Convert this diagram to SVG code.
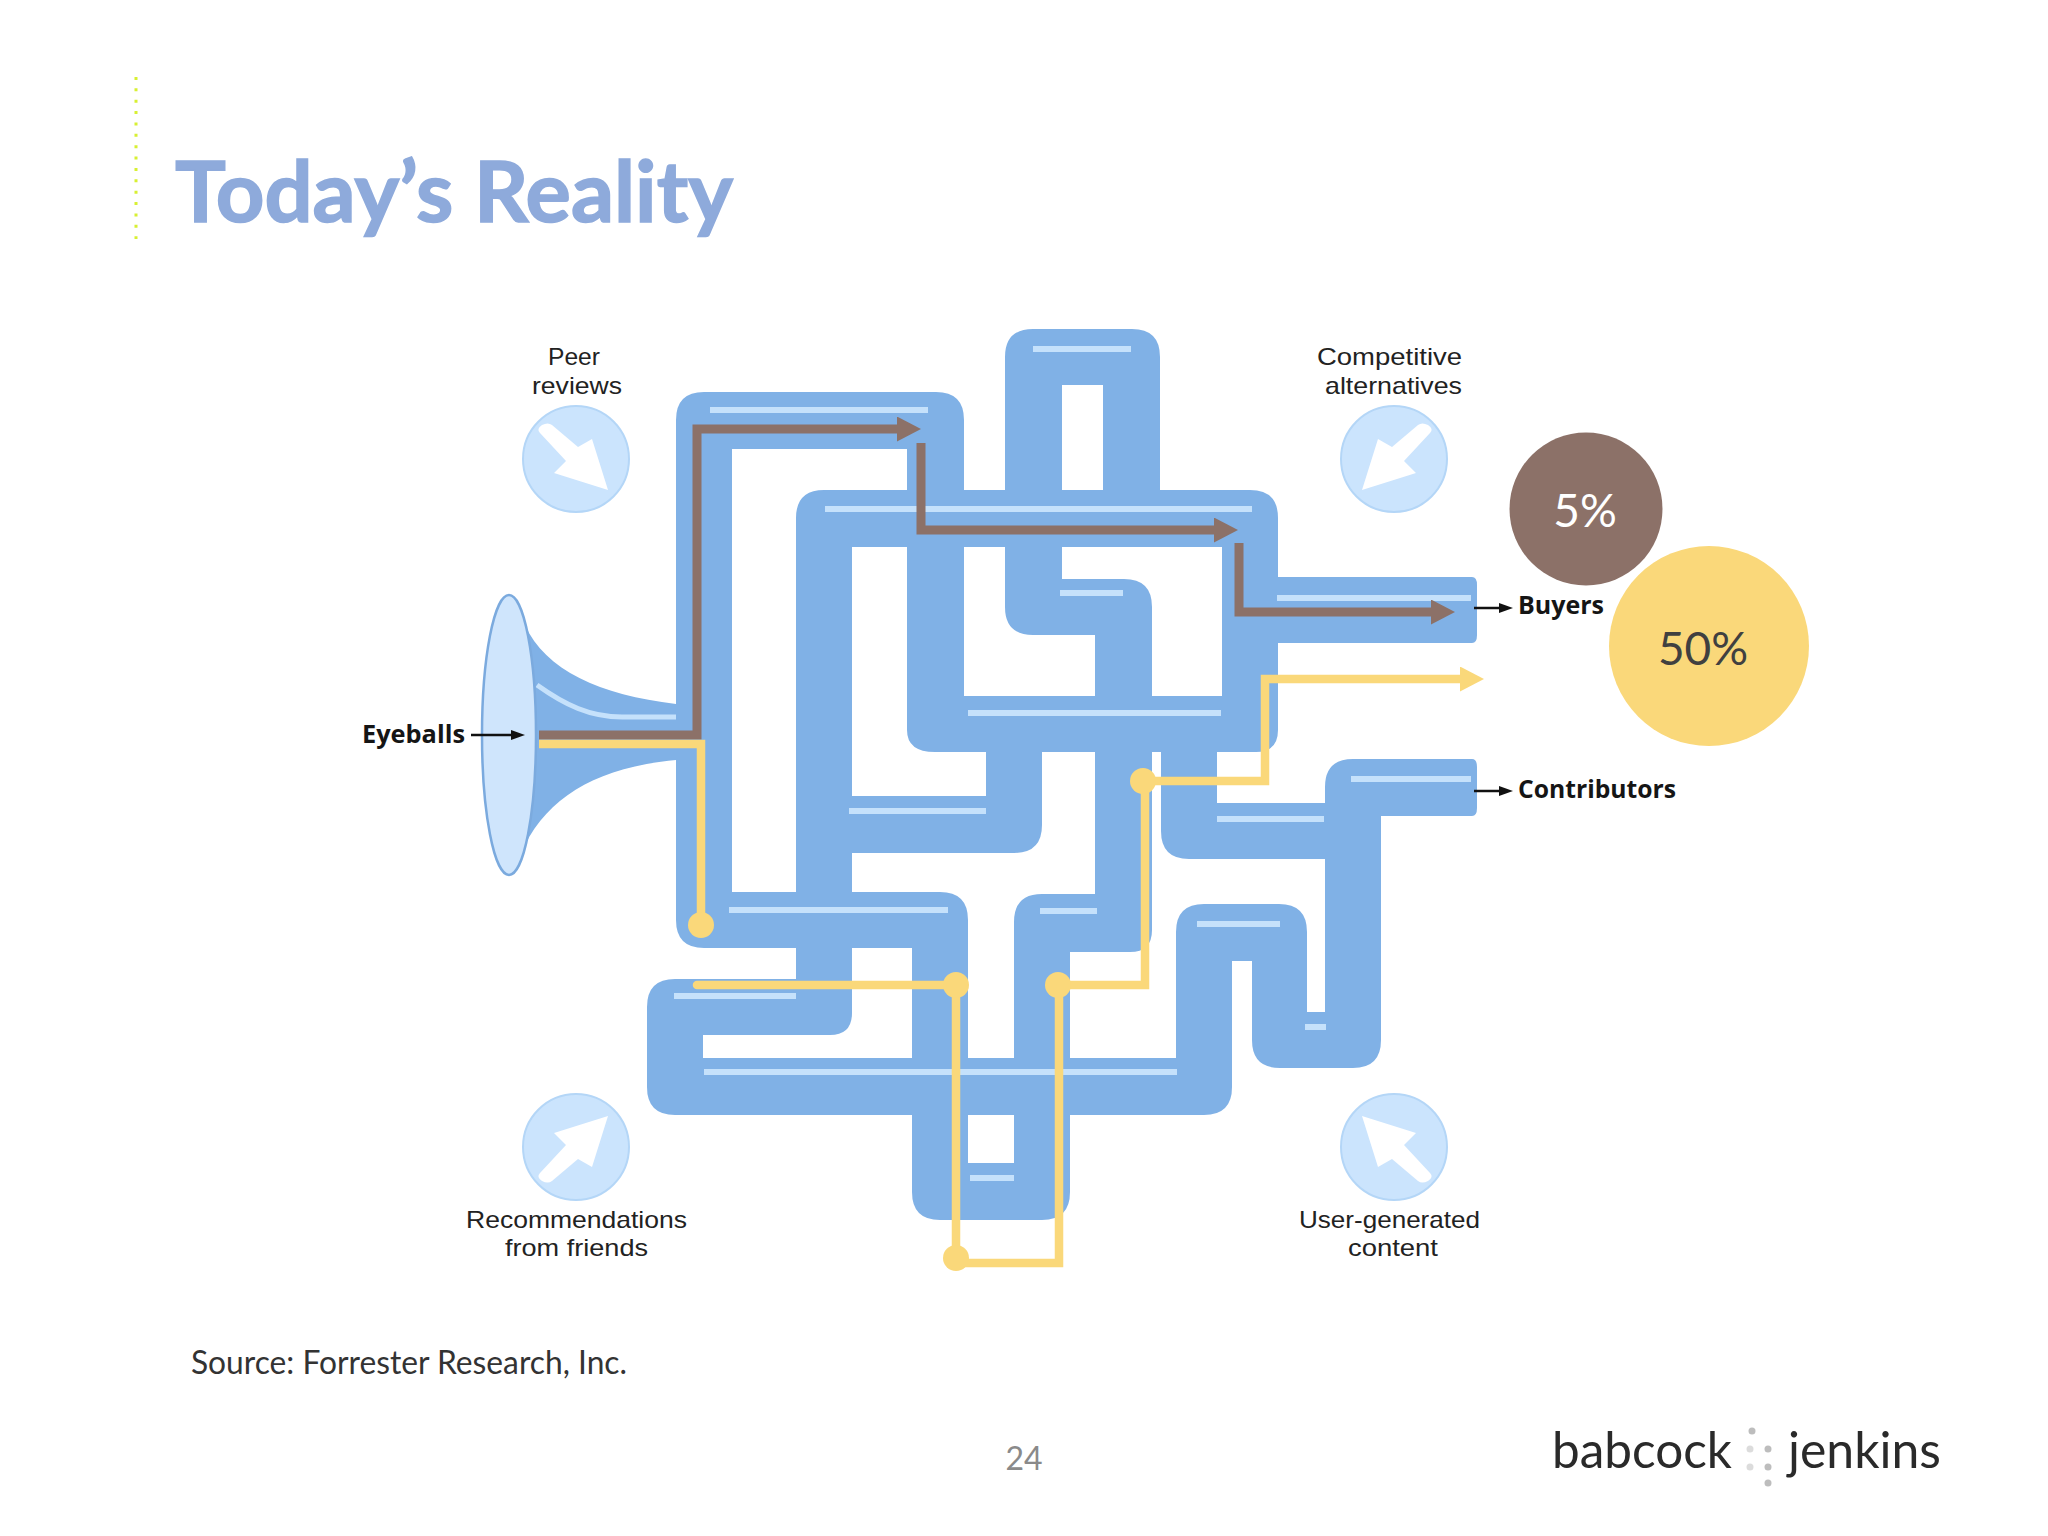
<svg xmlns="http://www.w3.org/2000/svg" width="2048" height="1536" viewBox="0 0 2048 1536">
<style>
.pipe{fill:#80b1e6}
.shine{stroke:#c5e1fb;stroke-width:6;fill:none}
.brown{stroke:#8c7168;stroke-width:9;fill:none;stroke-linejoin:miter}
.yellow{stroke:#fad87a;stroke-width:8.5;fill:none;stroke-linejoin:miter}
.dot{fill:#fad87a}
.guide{stroke:#111;stroke-width:2.5;fill:none}
.lbl{font-family:"Liberation Sans",Arial,sans-serif;font-size:24px;fill:#222}
.blbl{font-family:"Open Sans","Liberation Sans",sans-serif;font-size:25px;font-weight:700;fill:#151515}
.body{font-family:Lato,"Liberation Sans",sans-serif}
.disc{fill:#cbe4fd;stroke:#b4d6f7;stroke-width:2}
</style>
<defs>
<marker id="ab" markerUnits="userSpaceOnUse" markerWidth="24" markerHeight="25" refX="0" refY="12.5" orient="auto"><path d="M0 0L24 12.5L0 25Z" fill="#8c7168"/></marker>
<marker id="ay" markerUnits="userSpaceOnUse" markerWidth="24" markerHeight="25" refX="0" refY="12.5" orient="auto"><path d="M0 0L24 12.5L0 25Z" fill="#fad87a"/></marker>
<marker id="ak" markerUnits="userSpaceOnUse" markerWidth="14" markerHeight="10" refX="0" refY="5" orient="auto"><path d="M0 0L14 5L0 10Z" fill="#111"/></marker>
<path id="arr" d="M-36-26Q-40-30-34-34Q-28-37-24-34L2-12L16-20L32 31L-22 14L-10 2Z" fill="#fff"/>
</defs>
<rect width="2048" height="1536" fill="#fff"/>

<line x1="136" y1="77" x2="136" y2="239" stroke="#d8f032" stroke-width="3" stroke-dasharray="3 8.37"/>
<text id="title" class="body" x="175" y="222" font-size="84" font-weight="700" fill="#8eaadb" stroke="#8eaadb" stroke-width="1.5" textLength="558" lengthAdjust="spacingAndGlyphs">Today’s Reality</text>

<g id="pipes" class="pipe">
<path d="M704 392H936Q964 392 964 420V700H907V449H732V892H796V948H704Q676 948 676 920V420Q676 392 704 392Z"/>
<path d="M732 892H940Q968 892 968 920V1163H1014V922Q1014 894 1042 894H1095V752H1152V930Q1152 952 1130 952H1070V1192Q1070 1220 1042 1220H940Q912 1220 912 1192V948H732Z"/>
<path d="M824 490H1250Q1278 490 1278 518V547H852V796H796V518Q796 490 824 490Z"/>
<path d="M1222 540H1278V730Q1278 752 1256 752H935Q907 752 907 730V696H1222Z"/>
<path d="M852 796H986V752H1042V825Q1042 853 1014 853H852Z"/>
<path d="M796 790H852V1013Q852 1035 830 1035H703V1070H647V1007Q647 979 675 979H796Z"/>
<path d="M647 1058H1232V1087Q1232 1115 1204 1115H675Q647 1115 647 1087Z"/>
<path d="M1176 1080V932Q1176 904 1204 904H1279Q1307 904 1307 932V1012H1325V787Q1325 759 1353 759H1472Q1477 759 1477 767V808Q1477 816 1472 816H1381V1040Q1381 1068 1353 1068H1280Q1252 1068 1252 1040V961H1232V1080Z"/>
<path d="M1161 745H1217V803H1330V859H1189Q1161 859 1161 831Z"/>
<path d="M1033 329H1132Q1160 329 1160 357V500H1103V385H1062V579H1124Q1152 579 1152 607V700H1095V635H1033Q1005 635 1005 607V357Q1005 329 1033 329Z"/>
<path d="M1270 577H1472Q1477 577 1477 585V635Q1477 643 1472 643H1270Z"/>
</g>
<g id="pipe-highlights" class="shine">
<path d="M710 410H928M825 509H1252M1033 349H1131M849 811H986M729 910H948M968 713H1221M1060 593H1123M1277 598H1471M1351 779H1471M1217 819H1324M1040 911H1097M1197 924H1280M1305 1027H1326M674 996H796M704 1072H1177M970 1178H1014"/>
</g>

<g id="horn">
<path class="pipe" d="M525 625C545 670 600 695 676 704V760C600 767 550 795 525 845Z"/>
<path d="M537 685C565 705 590 717 622 717H676" stroke="#c5e1fb" stroke-width="5" fill="none"/>
<ellipse cx="509" cy="735" rx="27" ry="140" fill="#cfe5fc" stroke="#7baade" stroke-width="2.5"/>
</g>

<g id="connectors">
<path class="brown" d="M539 735H697V429H897" marker-end="url(#ab)"/>
<path class="brown" d="M921 443V530H1214" marker-end="url(#ab)"/>
<path class="brown" d="M1239 543V612H1431" marker-end="url(#ab)"/>
<path class="yellow" d="M539 744H701V925"/>
<circle class="dot" cx="701" cy="925" r="13"/>
<path class="yellow" stroke-linecap="round" d="M697 985H956"/>
<path class="yellow" d="M956 985V1263H1059V985H1145V781"/>
<path class="yellow" d="M1142 781H1265V679H1460" marker-end="url(#ay)"/>
<circle class="dot" cx="956" cy="985" r="13"/>
<circle class="dot" cx="956" cy="1258" r="13"/>
<circle class="dot" cx="1058" cy="985" r="13"/>
<circle class="dot" cx="1143" cy="781" r="13"/>
<path class="guide" d="M471 735H511" marker-end="url(#ak)"/>
<path class="guide" d="M1474 608H1499" marker-end="url(#ak)"/>
<path class="guide" d="M1474 791H1499" marker-end="url(#ak)"/>
</g>

<g id="peer-reviews">
<text class="lbl" x="548" y="365" textLength="52" lengthAdjust="spacingAndGlyphs">Peer</text>
<text class="lbl" x="532" y="394" textLength="90" lengthAdjust="spacingAndGlyphs">reviews</text>
<circle class="disc" cx="576" cy="459" r="53"/>
<use href="#arr" transform="translate(576 459)"/>
</g>
<g id="competitive-alternatives">
<text class="lbl" x="1317" y="365" textLength="145" lengthAdjust="spacingAndGlyphs">Competitive</text>
<text class="lbl" x="1325" y="394" textLength="137" lengthAdjust="spacingAndGlyphs">alternatives</text>
<circle class="disc" cx="1394" cy="459" r="53"/>
<use href="#arr" transform="translate(1394 459) scale(-1 1)"/>
</g>
<g id="recommendations">
<circle class="disc" cx="576" cy="1147" r="53"/>
<use href="#arr" transform="translate(576 1147) scale(1 -1)"/>
<text class="lbl" x="466" y="1228" textLength="221" lengthAdjust="spacingAndGlyphs">Recommendations</text>
<text class="lbl" x="505" y="1256" textLength="143" lengthAdjust="spacingAndGlyphs">from friends</text>
</g>
<g id="user-generated">
<circle class="disc" cx="1394" cy="1147" r="53"/>
<use href="#arr" transform="translate(1394 1147) scale(-1 -1)"/>
<text class="lbl" x="1299" y="1228" textLength="181" lengthAdjust="spacingAndGlyphs">User-generated</text>
<text class="lbl" x="1348" y="1256" textLength="90" lengthAdjust="spacingAndGlyphs">content</text>
</g>
<g id="eyeballs"><text class="blbl" x="362" y="743" textLength="103" lengthAdjust="spacingAndGlyphs">Eyeballs</text></g>
<g id="buyers"><text class="blbl" x="1518" y="614" textLength="86" lengthAdjust="spacingAndGlyphs">Buyers</text></g>
<g id="contributors"><text class="blbl" x="1518" y="798" textLength="158" lengthAdjust="spacingAndGlyphs">Contributors</text></g>

<g id="pct-5">
<circle cx="1586" cy="509" r="76.5" fill="#8c7168"/>
<text class="body" x="1585" y="527" font-size="46" fill="#fff" text-anchor="middle">5%</text>
</g>
<g id="pct-50">
<circle cx="1709" cy="646" r="100" fill="#fad87a"/>
<text class="body" x="1703" y="665" font-size="46" fill="#404040" text-anchor="middle">50%</text>
</g>

<text id="source" class="body" x="191" y="1374" font-size="32" fill="#333" textLength="436" lengthAdjust="spacingAndGlyphs">Source: Forrester Research, Inc.</text>
<text id="page" class="body" x="1024" y="1470" font-size="32" fill="#8a8a8a" text-anchor="middle">24</text>
<g id="logo">
<text class="body" x="1552" y="1468" font-size="50" font-weight="400" fill="#2a2a2a" textLength="180" lengthAdjust="spacingAndGlyphs">babcock</text>
<text class="body" x="1788" y="1468" font-size="50" font-weight="400" fill="#2a2a2a" textLength="153" lengthAdjust="spacingAndGlyphs">jenkins</text>
<g fill="#bdbdbd"><circle cx="1752" cy="1431" r="3.5"/><circle cx="1768" cy="1449" r="3.5"/><circle cx="1768" cy="1467" r="3.5"/><circle cx="1768" cy="1483" r="3.5"/></g>
<g fill="#dcdcdc"><circle cx="1750" cy="1449" r="3.5"/><circle cx="1750" cy="1467" r="3.5"/></g>
</g>
</svg>
